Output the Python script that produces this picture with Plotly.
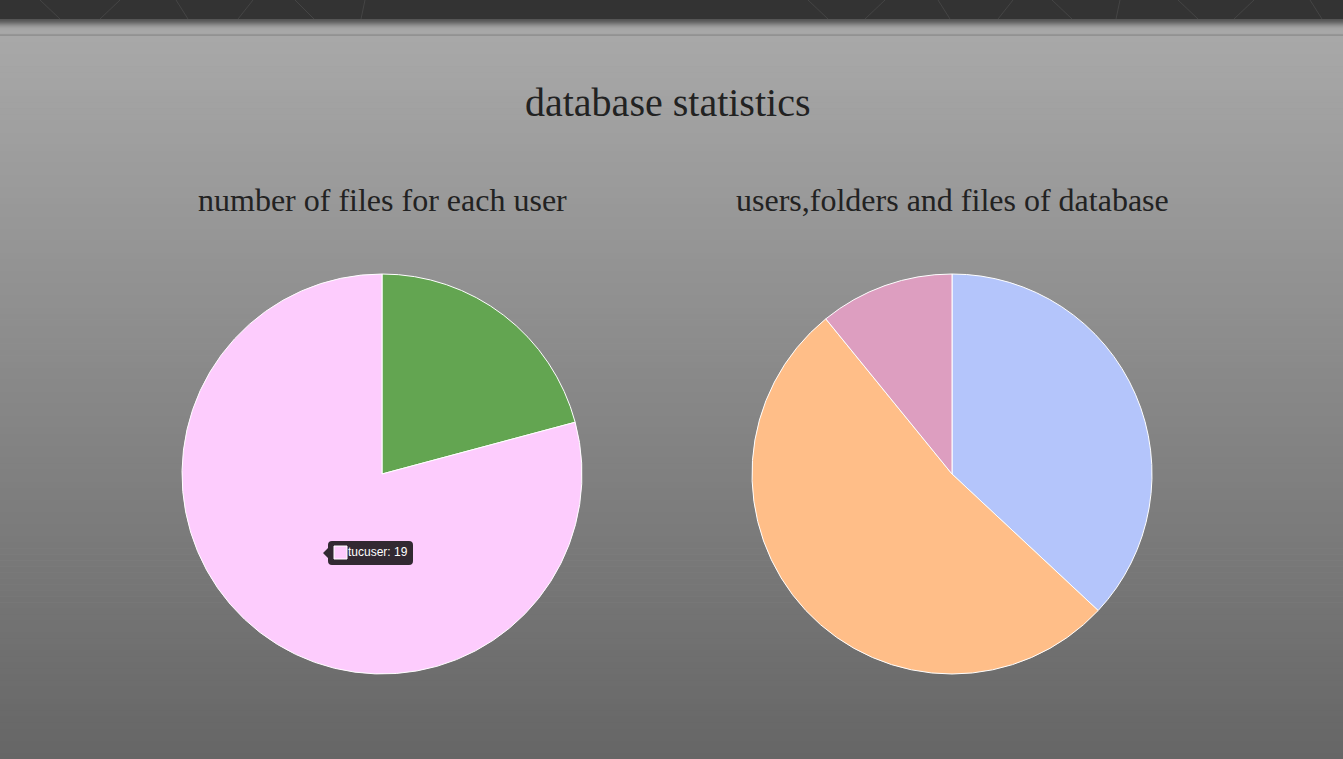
import plotly.graph_objects as go

W, H = 1343, 759

# ---- data ----
user_labels = ["other", "tucuser"]
user_values = [5, 19]
user_colors = ["#63a551", "#fdccfd"]

db_labels = ["folders", "files", "users"]
db_values = [17, 24, 5]
db_colors = ["#b4c5fb", "#ffbe88", "#dd9ec0"]

title_main = "database statistics"
title_left = "number of files for each user"
title_right = "users,folders and files of database"
tooltip_text = "tucuser: 19"


def px(x):
    return x / W


def py(y):
    return 1 - y / H


fig = go.Figure()

cx_l, cx_r, cy, r = 382, 952, 474, 200

fig.add_trace(go.Pie(
    labels=user_labels, values=user_values, sort=False, direction="clockwise",
    rotation=0, textinfo="none", hoverinfo="label+value",
    marker=dict(colors=user_colors, line=dict(color="white", width=1)),
    domain=dict(x=[px(cx_l - r), px(cx_l + r)], y=[py(cy + r), py(cy - r)]),
    showlegend=False,
))
fig.add_trace(go.Pie(
    labels=db_labels, values=db_values, sort=False, direction="clockwise",
    rotation=0, textinfo="none", hoverinfo="label+value",
    marker=dict(colors=db_colors, line=dict(color="white", width=1)),
    domain=dict(x=[px(cx_r - r), px(cx_r + r)], y=[py(cy + r), py(cy - r)]),
    showlegend=False,
))

shapes = []
# background gradient
y0, y1 = 36, H
n = 120
c_top, c_bot = (168, 168, 168), (102, 102, 102)
for i in range(n):
    ya = y0 + (y1 - y0) * i / n
    yb = y0 + (y1 - y0) * (i + 1) / n + 0.5
    t = i / (n - 1)
    c = tuple(round(c_top[k] + (c_bot[k] - c_top[k]) * t) for k in range(3))
    shapes.append(dict(type="rect", xref="paper", yref="paper", layer="below",
                       x0=0, x1=1, y0=py(yb), y1=py(ya), line_width=0,
                       fillcolor="rgb(%d,%d,%d)" % c))
# header shadow
sh = [(19, 85), (20, 90), (21, 98), (22, 108), (23, 120), (24, 132), (25, 143),
      (26, 152), (27, 159), (28, 164), (29, 166), (30, 167), (31, 168), (32, 168),
      (33, 166), (34, 150), (35, 146)]
for yy, g in sh:
    shapes.append(dict(type="rect", xref="paper", yref="paper", layer="below",
                       x0=0, x1=1, y0=py(yy + 1), y1=py(yy), line_width=0,
                       fillcolor="rgb(%d,%d,%d)" % (g, g, g)))
# header bar
shapes.append(dict(type="rect", xref="paper", yref="paper", layer="below",
                   x0=0, x1=1, y0=py(19), y1=1, line_width=0, fillcolor="#333333"))
# decorative lines in header
seg = [(40, 0, 60, 19), (120, 0, 100, 19), (176, 0, 188, 19), (253, 0, 238, 19),
       (295, 0, 314, 19), (365, 0, 361, 19), (808, 0, 828, 19), (885, 0, 865, 19),
       (938, 0, 950, 19), (1013, 0, 998, 19), (1052, 0, 1072, 19),
       (1120, 0, 1116, 19), (1178, 0, 1198, 19), (1254, 0, 1234, 19),
       (1310, 0, 1322, 19)]
for xa, ya, xb, yb in seg:
    shapes.append(dict(type="line", xref="paper", yref="paper", layer="below",
                       x0=px(xa), y0=py(ya), x1=px(xb), y1=py(yb),
                       line=dict(color="#454545", width=1)))

# tooltip box with rounded corners and arrow
bx0, bx1, by0, by1, rr = 328, 413, 541, 565, 4
tip_x, tip_y = 323, 553
path = (f"M {px(bx0 + rr)},{py(by0)} L {px(bx1 - rr)},{py(by0)} "
        f"Q {px(bx1)},{py(by0)} {px(bx1)},{py(by0 + rr)} "
        f"L {px(bx1)},{py(by1 - rr)} Q {px(bx1)},{py(by1)} {px(bx1 - rr)},{py(by1)} "
        f"L {px(bx0 + rr)},{py(by1)} Q {px(bx0)},{py(by1)} {px(bx0)},{py(by1 - rr)} "
        f"L {px(bx0)},{py(tip_y + 5)} L {px(tip_x)},{py(tip_y)} L {px(bx0)},{py(tip_y - 5)} "
        f"L {px(bx0)},{py(by0 + rr)} Q {px(bx0)},{py(by0)} {px(bx0 + rr)},{py(by0)} Z")
shapes.append(dict(type="path", xref="paper", yref="paper", layer="above",
                   path=path, fillcolor="#322932", line_width=0))
shapes.append(dict(type="rect", xref="paper", yref="paper", layer="above",
                   x0=px(334), x1=px(347), y0=py(559), y1=py(546),
                   fillcolor=user_colors[1], line=dict(color="white", width=1)))

serif = "Liberation Serif, Times New Roman, serif"
annotations = [
    dict(text=title_main, x=px(667), y=py(102), xref="paper", yref="paper",
         showarrow=False, xanchor="center", yanchor="middle",
         font=dict(family=serif, size=40, color="#222")),
    dict(text=title_left, x=px(382), y=py(200), xref="paper", yref="paper",
         showarrow=False, xanchor="center", yanchor="middle",
         font=dict(family=serif, size=32, color="#222")),
    dict(text=title_right, x=px(952), y=py(200), xref="paper", yref="paper",
         showarrow=False, xanchor="center", yanchor="middle",
         font=dict(family=serif, size=32, color="#222")),
    dict(text=tooltip_text, x=px(346), y=py(552), xref="paper", yref="paper",
         showarrow=False, xanchor="left", yanchor="middle",
         font=dict(family="Liberation Sans, Arial, sans-serif", size=12, color="white")),
]

fig.update_layout(
    width=W, height=H, margin=dict(l=0, r=0, t=0, b=0),
    paper_bgcolor="#a0a0a0", plot_bgcolor="rgba(0,0,0,0)",
    shapes=shapes, annotations=annotations,
)

fig.write_html("out.html", config=dict(displayModeBar=False))
